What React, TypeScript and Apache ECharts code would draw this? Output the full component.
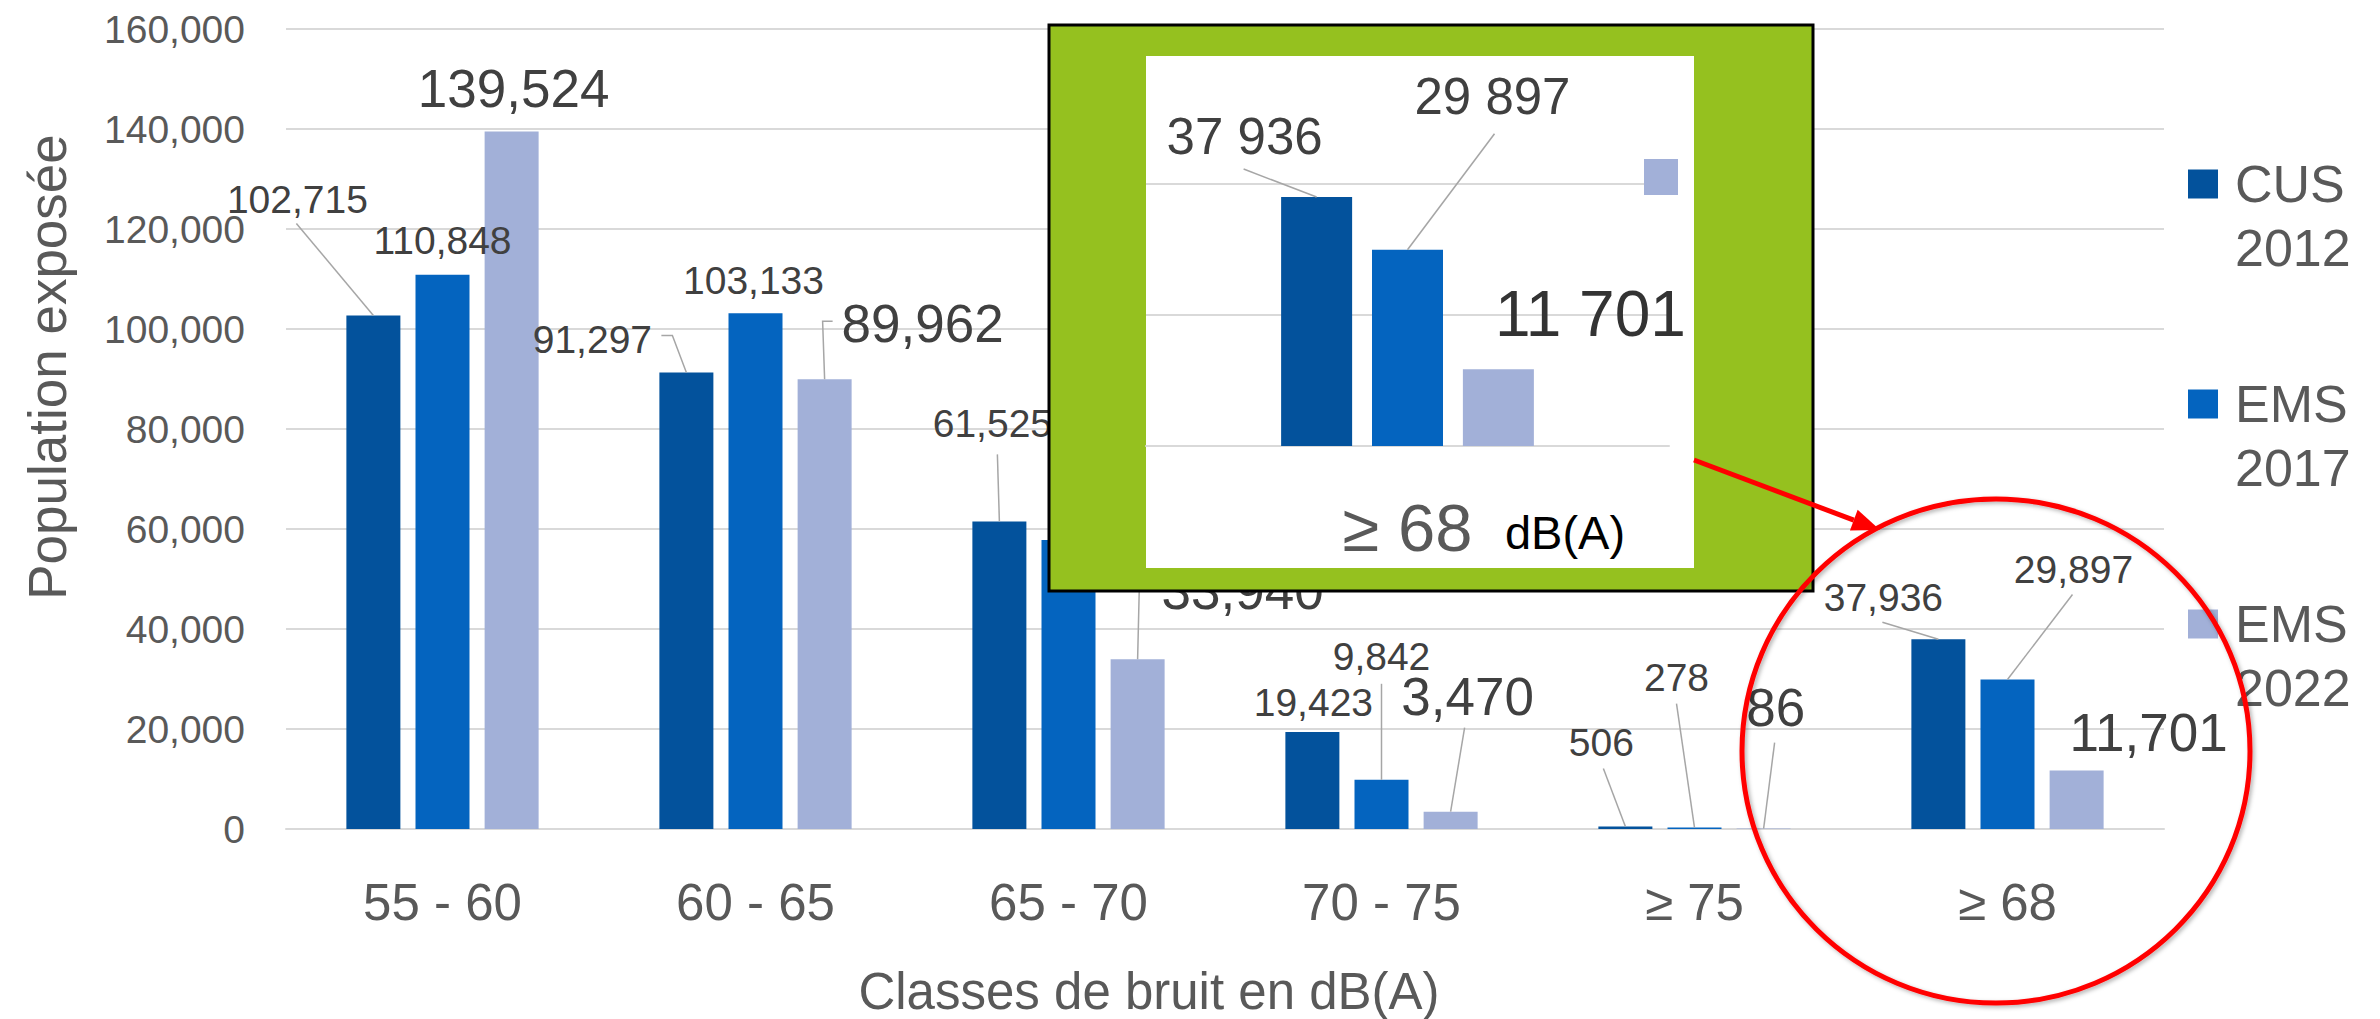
import React, { useEffect, useRef } from 'react';
import * as echarts from 'echarts';

// ---------------- data ----------------
const categories = ['55 - 60', '60 - 65', '65 - 70', '70 - 75', '≥ 75', '≥ 68'];
const seriesNames = ['CUS 2012', 'EMS 2017', 'EMS 2022'];
const cus2012 = [102715, 91297, 61525, 19423, 506, 37936];
const ems2017 = [110848, 103133, 57800, 9842, 278, 29897];
const ems2022 = [139524, 89962, 33940, 3470, 86, 11701];
const yMin = 0;
const yMax = 160000;
const yStep = 20000;
const insetCategory = ['≥ 68'];
const insetIndex = 5;
const insetMax = 40000;
const insetStep = 20000;
const xTitle = 'Classes de bruit en dB(A)';
const yTitle = 'Population exposée';
const insetUnit = 'dB(A)';

// ---------------- styles ----------------
const FONT = '"Liberation Sans", Arial, Helvetica, sans-serif';
const COLORS = ['#03529C', '#0464BF', '#A2B0D8'];
const GRID_COLOR = '#D9D9D9';
const MAIN_BAR_W = 54;
const MAIN_GAP = 0.28;
const INSET_BAR_W = 71;
const INSET_GAP = 0.28;

// label centre offset from bar-top centre, font size, leader polyline (relative to bar-top centre)
type LCfg = { o: [number, number]; fs: number; line?: [number, number][] };
const MAIN_LABELS: LCfg[][] = [
  [
    { o: [-76, -116], fs: 39, line: [[-77, -92]] },
    { o: [-94, -33], fs: 39, line: [[-14, -37], [-25, -37]] },
    { o: [-7, -98], fs: 39, line: [[-2, -67]] },
    { o: [1, -29], fs: 39 },
    { o: [-24, -84], fs: 39, line: [[-22, -58]] },
    { o: [-55, -42], fs: 39, line: [[-56, -17]] },
  ],
  [
    { o: [0, -34], fs: 39 },
    { o: [-2, -33], fs: 39 },
    { o: [75, -45], fs: 39 },
    { o: [0, -123], fs: 39, line: [[0, -96]] },
    { o: [-18, -150], fs: 39, line: [[-18, -124]] },
    { o: [66, -110], fs: 39, line: [[65, -85]] },
  ],
  [
    { o: [2, -43], fs: 53 },
    { o: [98, -56], fs: 53, line: [[-2, -58], [8, -58]] },
    { o: [105, -69], fs: 53, line: [[2, -85], [14, -85]] },
    { o: [17, -115], fs: 53, line: [[14, -84]] },
    { o: [12, -121], fs: 53, line: [[11, -86]] },
    { o: [72, -38], fs: 53 },
  ],
];
const INSET_LABELS: LCfg[] = [
  { o: [-72, -61], fs: 51, line: [[-73, -28]] },
  { o: [85, -153], fs: 51, line: [[87, -116]] },
  { o: [92, -55], fs: 64 },
];

const commas = (v: number) => String(v).replace(/\B(?=(\d{3})+(?!\d))/g, ',');
const spaces = (v: number) => String(v).replace(/\B(?=(\d{3})+(?!\d))/g, ' ');

export default function App() {
  const ref = useRef<HTMLDivElement>(null);

  useEffect(() => {
    if (!ref.current) return;
    const chart = echarts.init(ref.current, null, { renderer: 'svg' });
    const mainData = [cus2012, ems2017, ems2022];
    const insetValues = mainData.map((a) => a[insetIndex]);

    const mainSeries = mainData.map((vals, s) => ({
      type: 'bar',
      name: seriesNames[s],
      xAxisIndex: 0,
      yAxisIndex: 0,
      barWidth: MAIN_BAR_W,
      barGap: `${MAIN_GAP * 100}%`,
      itemStyle: { color: COLORS[s] },
      data: vals.map((v, i) => ({ value: v, label: { fontSize: MAIN_LABELS[s][i].fs } })),
      label: {
        show: true,
        position: 'top',
        color: '#404040',
        fontFamily: FONT,
        formatter: (p: any) => commas(p.value),
      },
      labelLayout: (p: any) => {
        const c = MAIN_LABELS[s][p.dataIndex];
        return {
          x: p.rect.x + p.rect.width / 2 + c.o[0],
          y: p.rect.y + c.o[1],
          align: 'center',
          verticalAlign: 'middle',
        };
      },
    }));

    const insetSeries = insetValues.map((v, s) => ({
      type: 'bar',
      name: seriesNames[s] + ' (zoom)',
      xAxisIndex: 1,
      yAxisIndex: 1,
      z: 110,
      barWidth: INSET_BAR_W,
      barGap: `${INSET_GAP * 100}%`,
      itemStyle: { color: COLORS[s] },
      data: [{ value: v, label: { fontSize: INSET_LABELS[s].fs, color: s === 2 ? '#333333' : '#404040' } }],
      label: {
        show: true,
        position: 'top',
        fontFamily: FONT,
        formatter: (p: any) => spaces(p.value),
      },
      labelLayout: (p: any) => {
        const c = INSET_LABELS[s];
        return {
          x: p.rect.x + p.rect.width / 2 + c.o[0],
          y: p.rect.y + c.o[1],
          align: 'center',
          verticalAlign: 'middle',
        };
      },
    }));

    chart.setOption({
      animation: false,
      backgroundColor: '#ffffff',
      textStyle: { fontFamily: FONT },
      grid: [
        { left: 286, right: 216, top: 29, bottom: 190, outerBoundsMode: 'none' },
        { left: 1146, right: 711, top: 183.5, bottom: 573, outerBoundsMode: 'none', z: 105 },
      ],
      legend: {
        data: seriesNames,
        orient: 'vertical',
        left: 2188,
        top: 88,
        padding: 0,
        itemGap: 28,
        itemWidth: 30,
        itemHeight: 29,
        icon: 'rect',
        selectedMode: false,
        formatter: (name: string) => '\n' + name.replace(' ', '\n'),
        textStyle: {
          fontSize: 52,
          lineHeight: 64,
          color: '#595959',
          fontFamily: FONT,
          padding: [0, 0, 0, 12],
        },
      },
      xAxis: [
        {
          type: 'category',
          gridIndex: 0,
          data: categories,
          axisTick: { show: false },
          axisLine: { lineStyle: { color: GRID_COLOR, width: 2 } },
          axisLabel: { fontSize: 51, color: '#595959', margin: 48, fontFamily: FONT },
        },
        {
          type: 'category',
          gridIndex: 1,
          data: insetCategory,
          z: 105,
          axisTick: { show: false },
          axisLine: { lineStyle: { color: GRID_COLOR, width: 2 } },
          axisLabel: { fontSize: 67, color: '#595959', margin: 48, fontFamily: FONT },
        },
      ],
      yAxis: [
        {
          type: 'value',
          gridIndex: 0,
          min: yMin,
          max: yMax,
          interval: yStep,
          axisLine: { show: false },
          axisTick: { show: false },
          splitLine: { lineStyle: { color: GRID_COLOR, width: 2 } },
          axisLabel: { fontSize: 39, color: '#595959', margin: 41, fontFamily: FONT, formatter: (v: number) => commas(v) },
        },
        {
          type: 'value',
          gridIndex: 1,
          min: 0,
          max: insetMax,
          interval: insetStep,
          z: 105,
          axisLine: { show: false },
          axisTick: { show: false },
          axisLabel: { show: false },
          splitLine: { lineStyle: { color: GRID_COLOR, width: 2 } },
        },
      ],
      series: [...mainSeries, ...insetSeries],
    });

    // leader lines computed from the chart's own scales
    const elements: any[] = [];
    const mainStep = MAIN_BAR_W * (1 + MAIN_GAP);
    mainData.forEach((vals, s) => {
      vals.forEach((v, i) => {
        const c = MAIN_LABELS[s][i];
        if (!c.line) return;
        const p = chart.convertToPixel({ gridIndex: 0 }, [i, v]) as number[];
        const x = p[0] + (s - 1) * mainStep;
        const y = p[1];
        elements.push({
          type: 'polyline',
          z: 50,
          silent: true,
          shape: { points: [[x, y], ...c.line.map(([dx, dy]) => [x + dx, y + dy])] },
          style: { stroke: '#A6A6A6', lineWidth: 1.5, fill: 'none' },
        });
      });
    });

    // inset frame
    elements.push({
      type: 'rect', z: 100, silent: true,
      shape: { x: 1049, y: 25, width: 764, height: 566 },
      style: { fill: '#95C11F', stroke: '#000000', lineWidth: 3 },
    });
    elements.push({
      type: 'rect', z: 101, silent: true,
      shape: { x: 1146, y: 56, width: 548, height: 512 },
      style: { fill: '#FFFFFF' },
    });
    elements.push({
      type: 'rect', z: 112, silent: true,
      shape: { x: 1644, y: 159, width: 34, height: 36 },
      style: { fill: COLORS[2] },
    });
    elements.push({
      type: 'text', z: 112, silent: true,
      x: 1565, y: 532,
      style: {
        text: insetUnit, fontSize: 47, fontFamily: FONT, fill: '#000000',
        align: 'center', verticalAlign: 'middle', textAlign: 'center', textVerticalAlign: 'middle',
      },
    });
    const insetStep2 = INSET_BAR_W * (1 + INSET_GAP);
    insetValues.forEach((v, s) => {
      const c = INSET_LABELS[s];
      if (!c.line) return;
      const p = chart.convertToPixel({ gridIndex: 1 }, [0, v]) as number[];
      const x = p[0] + (s - 1) * insetStep2;
      const y = p[1];
      elements.push({
        type: 'polyline', z: 111, silent: true,
        shape: { points: [[x, y], ...c.line.map(([dx, dy]) => [x + dx, y + dy])] },
        style: { stroke: '#A6A6A6', lineWidth: 1.5, fill: 'none' },
      });
    });

    // red arrow and circle
    const ax1 = 1694, ay1 = 460, tipX = 1880, tipY = 530;
    const len = Math.hypot(tipX - ax1, tipY - ay1);
    const dx = (tipX - ax1) / len, dy = (tipY - ay1) / len;
    const bx = tipX - 28 * dx, by = tipY - 28 * dy;
    elements.push({
      type: 'line', z: 120, silent: true,
      shape: { x1: ax1, y1: ay1, x2: bx, y2: by },
      style: { stroke: '#FF0000', lineWidth: 5 },
    });
    elements.push({
      type: 'polygon', z: 120, silent: true,
      shape: { points: [[tipX, tipY], [bx - 11 * dy, by + 11 * dx], [bx + 11 * dy, by - 11 * dx]] },
      style: { fill: '#FF0000' },
    });
    elements.push({
      type: 'ellipse', z: 120, silent: true,
      shape: { cx: 1996, cy: 751, rx: 254, ry: 252 },
      style: {
        fill: 'none', stroke: '#FF0000', lineWidth: 5,
        shadowBlur: 4, shadowColor: 'rgba(0,0,0,0.3)', shadowOffsetX: 2, shadowOffsetY: 2,
      },
    });

    // axis titles
    elements.push({
      type: 'text', silent: true,
      x: 1149, y: 991,
      style: {
        text: xTitle, fontSize: 51, fontFamily: FONT, fill: '#595959',
        align: 'center', verticalAlign: 'middle', textAlign: 'center', textVerticalAlign: 'middle',
      },
    });
    elements.push({
      type: 'text', silent: true,
      x: 47, y: 367, rotation: Math.PI / 2,
      style: {
        text: yTitle, fontSize: 53, fontFamily: FONT, fill: '#595959',
        align: 'center', verticalAlign: 'middle', textAlign: 'center', textVerticalAlign: 'middle',
      },
    });

    chart.setOption({ graphic: { elements } });

    return () => chart.dispose();
  }, []);

  return (
    <div
      ref={ref}
      style={{ position: 'fixed', left: 0, top: 0, width: 2380, height: 1019, background: '#fff' }}
    />
  );
}
